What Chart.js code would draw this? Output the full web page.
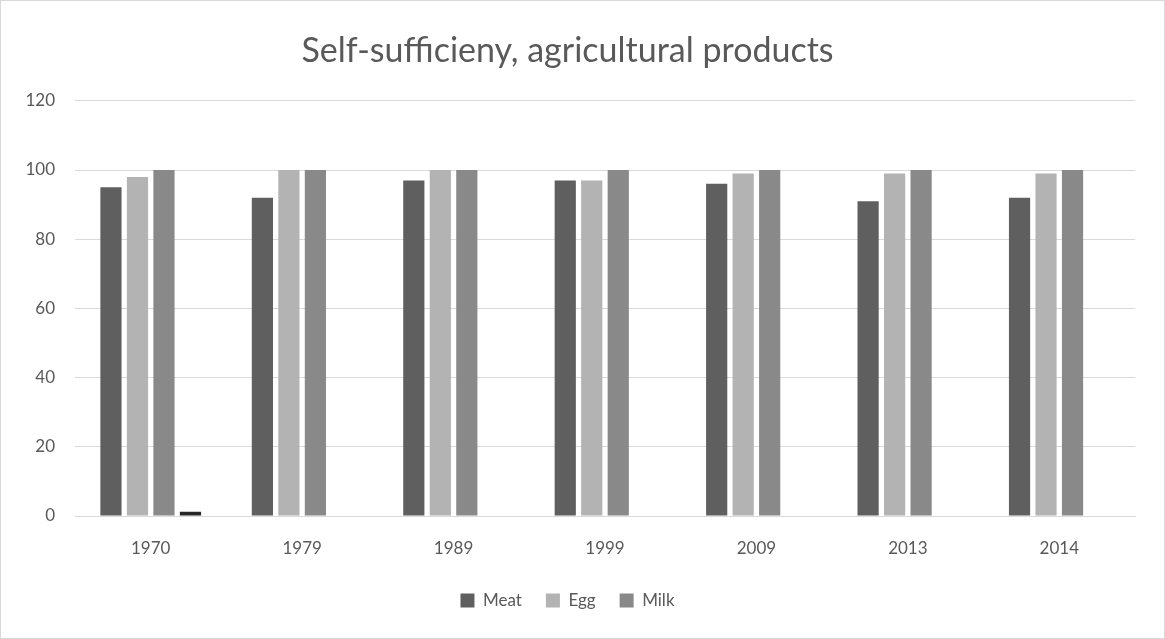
<!DOCTYPE html>
<html>
<head>
<meta charset="utf-8">
<title>Self-sufficieny, agricultural products</title>
<script src="https://cdn.jsdelivr.net/npm/chart.js@4/dist/chart.umd.min.js"></script>
<style>
  html, body { margin: 0; padding: 0; background: #ffffff; }
  #wrap { position: relative; width: 1165px; height: 639px; }
</style>
</head>
<body>
<div id="wrap"><canvas id="chart" width="1165" height="639"></canvas></div>
<script>
const years = ['1970', '1979', '1989', '1999', '2009', '2013', '2014'];
const meat = [95, 92, 97, 97, 96, 91, 92];
const egg = [98, 100, 100, 97, 99, 99, 99];
const milk = [100, 100, 100, 100, 100, 100, 100];
const other = [1.2, null, null, null, null, null, null];
const yTicks = [0, 20, 40, 60, 80, 100, 120];

const FONT = 'Lato, "Open Sans", sans-serif';
const TEXT = '#595959';
const GRID = '#d9d9d9';

// thin frame around the whole chart
const framePlugin = {
  id: 'frame',
  beforeDraw(chart) {
    const c = chart.ctx;
    c.save();
    c.fillStyle = '#ffffff';
    c.fillRect(0, 0, chart.width, chart.height);
    c.strokeStyle = GRID;
    c.lineWidth = 1;
    c.strokeRect(0.5, 0.5, chart.width - 1, chart.height - 1);
    c.restore();
  }
};

new Chart(document.getElementById('chart'), {
  type: 'bar',
  data: {
    labels: years,
    datasets: [
      { label: 'Meat', data: meat, backgroundColor: '#5f5f5f' },
      { label: 'Egg', data: egg, backgroundColor: '#b3b3b3' },
      { label: 'Milk', data: milk, backgroundColor: '#898989' },
      { label: '', data: other, backgroundColor: '#262626' }
    ]
  },
  options: {
    responsive: false,
    animation: false,
    layout: { padding: { left: 0, right: 30, top: 0, bottom: 20 } },
    datasets: {
      bar: { categoryPercentage: 0.7, barPercentage: 0.8 }
    },
    plugins: {
      title: {
        display: true,
        text: 'Self-sufficieny, agricultural products',
        color: TEXT,
        font: { family: FONT, size: 34, weight: 'normal' },
        padding: { top: 31, bottom: 29 }
      },
      legend: {
        position: 'bottom',
        labels: {
          color: TEXT,
          font: { family: FONT, size: 17 },
          boxWidth: 14,
          boxHeight: 14,
          padding: 24,
          filter: (item) => item.text !== ''
        }
      },
      tooltip: { enabled: false }
    },
    scales: {
      x: {
        grid: { display: false, drawTicks: false },
        border: { display: true, color: GRID, width: 1 },
        ticks: { color: TEXT, font: { family: FONT, size: 17 }, padding: 22 },
        afterFit(scale) { scale.height = 52; }
      },
      y: {
        min: 0,
        max: 120,
        afterBuildTicks(scale) { scale.ticks = yTicks.map(v => ({ value: v })); },
        grid: { color: GRID, lineWidth: 1, drawTicks: false },
        border: { display: false },
        ticks: { color: TEXT, font: { family: FONT, size: 17 }, padding: 20 },
        afterFit(scale) { scale.width = 75; }
      }
    }
  },
  plugins: [framePlugin]
});
</script>
</body>
</html>
